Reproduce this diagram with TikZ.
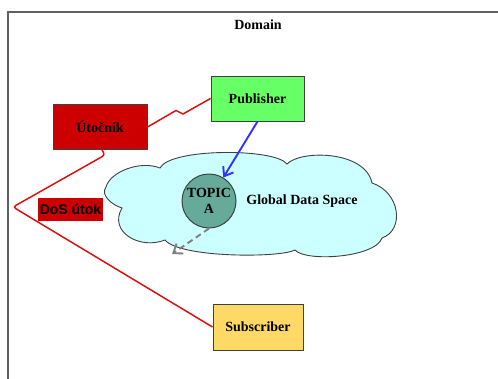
\documentclass[tikz,border=0pt]{standalone}
\usepackage{fontspec}
\setmainfont{Liberation Serif}
\newfontfamily\labelsans{Liberation Sans}
\usetikzlibrary{arrows.meta}

\definecolor{frameline}{HTML}{606060}
\definecolor{boxline}{HTML}{404040}
\definecolor{pubfill}{HTML}{66FF66}
\definecolor{attackfill}{HTML}{CC0000}
\definecolor{subfill}{HTML}{FFD966}
\definecolor{cloudfill}{HTML}{CCFFFF}
\definecolor{topicfill}{HTML}{66AA99}
\definecolor{attackline}{HTML}{DD1111}
\definecolor{pubarrow}{HTML}{3333FF}
\definecolor{leakarrow}{HTML}{808080}

\begin{document}
\begin{tikzpicture}[x=1pt,y=-1pt,
  txt/.style={font=\fontsize{14}{16.5}\selectfont\bfseries},
  box/.style={txt, draw=boxline, line width=1pt, minimum width=93pt,
              minimum height=45pt, inner sep=0pt},
  attack/.style={draw=attackline, line width=1.5pt},
  flow/.style={line width=1.9pt, -{Straight Barb[length=8pt,width=12pt,line width=1.9pt]}}
]
\useasboundingbox (0,0) rectangle (498,378);

% domain frame (runs past the right and bottom edges)
\draw[frameline, line width=1.1pt] (8,400) -- (8,12) -- (520,12);
\node[txt] (domain) at (258,25) {Domain};

% global data space cloud
\draw[draw=boxline, line width=0.9pt, fill=cloudfill]
  (106,187) .. controls (110,172) and (140,160) .. (160,168)
            .. controls (170,148) and (275,148) .. (287,164)
            .. controls (300,150) and (365,150) .. (372,183)
            .. controls (400,192) and (405,230) .. (382,238)
            .. controls (375,258) and (305,262) .. (295,250)
            .. controls (280,258) and (180,258) .. (165,240)
            .. controls (140,250) and (108,232) .. (122,208)
            .. controls (112,205) and (100,195) .. (106,187) -- cycle;
\node[txt] (gds) at (302,201) {Global Data Space};

\node[txt, circle, draw=boxline, line width=1pt, fill=topicfill,
      minimum size=54pt, inner sep=0pt, align=center] (topic) at (209,201) {TOPIC\\A};

% participants
\node[box, fill=pubfill] (pub) at (257.5,98.5) {Publisher};
\node[box, fill=attackfill, minimum width=94pt] (ut) at (100,127) {Útočník};
\node[box, fill=subfill, minimum width=90pt, minimum height=46pt] (sub) at (258,327) {Subscriber};

\node[fill=attackfill, minimum width=65pt, minimum height=23pt, inner sep=0pt,
      font=\labelsans\fontsize{14}{16.5}\selectfont\bfseries] (dos) at (70.5,209.5) {DoS útok};

% attack path
\draw[attack] (pub.west) -- (183,114) -- (176,110.5) -- (ut.east);
\draw[attack, rounded corners=3pt] ([xshift=2pt]ut.south) -- (105,155) -- (13,207) -- (sub.west);

% data flows
\draw[flow, pubarrow] (pub.south) -- (topic);
\coordinate (leak) at (172,254);
\draw[flow, leakarrow, dash pattern=on 6pt off 4pt] (topic.south) -- (leak);
\end{tikzpicture}
\end{document}
